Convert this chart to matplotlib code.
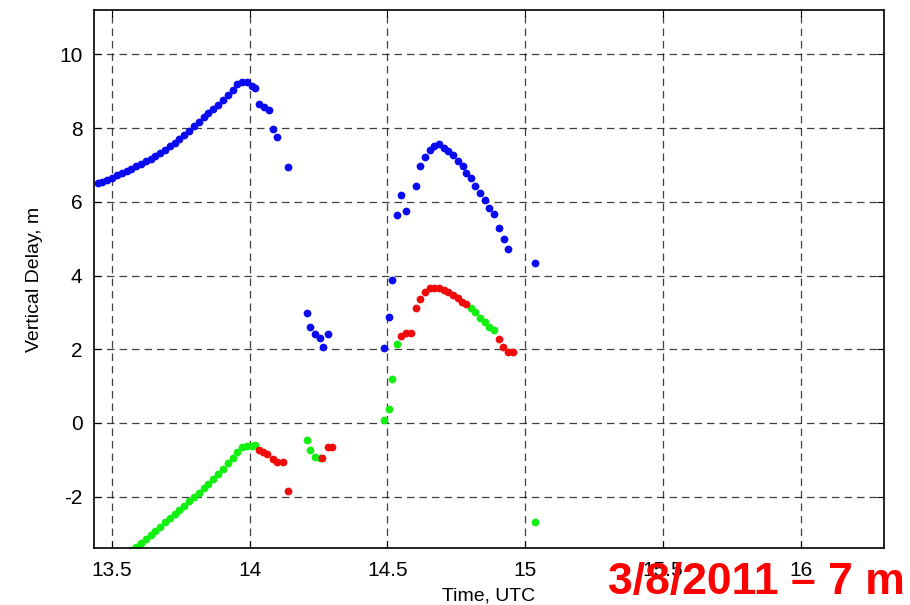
import matplotlib
matplotlib.use('Agg')
import matplotlib.pyplot as plt

plt.rcParams['font.family'] = ['Liberation Sans', 'DejaVu Sans']
plt.rcParams['axes.unicode_minus'] = False

# blue series (upper)
blue_t = [13.449, 13.466, 13.484, 13.501, 13.519, 13.536, 13.554, 13.571, 13.589,
          13.606, 13.624, 13.641, 13.659, 13.676, 13.694, 13.711, 13.729, 13.746,
          13.764, 13.781, 13.799, 13.816, 13.834, 13.851, 13.869, 13.886, 13.904,
          13.921, 13.939, 13.956, 13.974, 13.991, 14.009, 14.020,
          14.036, 14.052, 14.070, 14.085, 14.100, 14.140,
          14.207, 14.221, 14.239, 14.257, 14.268, 14.286,
          14.489, 14.507, 14.518, 14.536, 14.551, 14.569, 14.605, 14.620, 14.638,
          14.656, 14.670, 14.688, 14.707, 14.721, 14.739, 14.757, 14.775, 14.786,
          14.804, 14.819, 14.837, 14.855, 14.870, 14.888, 14.906, 14.924, 14.938,
          15.036]
blue_v = [6.50, 6.54, 6.60, 6.66, 6.73, 6.78, 6.84, 6.90, 6.96,
          7.03, 7.10, 7.17, 7.25, 7.33, 7.42, 7.51, 7.60, 7.70,
          7.82, 7.93, 8.05, 8.17, 8.29, 8.40, 8.52, 8.64, 8.77,
          8.90, 9.03, 9.20, 9.24, 9.25, 9.15, 9.10,
          8.65, 8.57, 8.49, 7.97, 7.76, 6.94,
          2.97, 2.59, 2.42, 2.31, 2.07, 2.42,
          2.04, 2.88, 3.89, 5.63, 6.18, 5.74, 6.42, 6.97, 7.21,
          7.40, 7.51, 7.56, 7.46, 7.37, 7.27, 7.10, 6.97, 6.78,
          6.64, 6.42, 6.23, 6.04, 5.82, 5.66, 5.30, 4.98, 4.71,
          4.35]

# green series (lower)
green_t = [13.572, 13.589, 13.606, 13.624, 13.641, 13.659, 13.676, 13.694, 13.711,
           13.729, 13.746, 13.764, 13.781, 13.799, 13.816, 13.834, 13.851, 13.869,
           13.886, 13.904, 13.921, 13.939, 13.956, 13.974, 13.991, 14.009, 14.020,
           14.207, 14.221, 14.239, 14.257,
           14.489, 14.507, 14.518, 14.536,
           14.804, 14.819, 14.837, 14.855, 14.870, 14.888,
           15.036]
green_v = [-3.45, -3.38, -3.26, -3.15, -3.04, -2.93, -2.82, -2.70, -2.59,
           -2.48, -2.37, -2.25, -2.13, -2.01, -1.89, -1.77, -1.65, -1.53,
           -1.39, -1.24, -1.09, -0.94, -0.79, -0.66, -0.62, -0.64, -0.60,
           -0.46, -0.73, -0.92, -0.95,
           0.08, 0.38, 1.20, 2.15,
           3.13, 3.02, 2.86, 2.75, 2.61, 2.53,
           -2.69]

# red series (lower)
red_t = [14.036, 14.050, 14.065, 14.085, 14.100, 14.120, 14.138,
         14.264, 14.283, 14.300,
         14.551, 14.569, 14.587, 14.605, 14.620, 14.638, 14.656, 14.670, 14.688,
         14.707, 14.721, 14.739, 14.757, 14.772, 14.786,
         14.906, 14.920, 14.938, 14.957]
red_v = [-0.73, -0.78, -0.85, -0.98, -1.06, -1.06, -1.85,
         -0.95, -0.65, -0.65,
         2.37, 2.45, 2.45, 3.13, 3.37, 3.56, 3.67, 3.67, 3.67,
         3.60, 3.54, 3.48, 3.40, 3.29, 3.24,
         2.29, 2.07, 1.93, 1.93]

xticks = [13.5, 14, 14.5, 15, 15.5, 16]
xticklabels = ['13.5', '14', '14.5', '15', '15.5', '16']
yticks = [-2, 0, 2, 4, 6, 8, 10]

fig = plt.figure(figsize=(9.1, 6.05), dpi=100)
ax = fig.add_axes([0.103, 0.094, 0.868, 0.889])

ms = 5.6
ax.plot(blue_t, blue_v, 'o', color='#0a0af0', ms=ms, mec='none')
ax.plot(green_t, green_v, 'o', color='#11f011', ms=ms, mec='none')
ax.plot(red_t, red_v, 'o', color='#f00a0a', ms=ms, mec='none')

ax.set_xlim(13.435, 16.30)
ax.set_ylim(-3.4, 11.2)
ax.set_xticks(xticks)
ax.set_xticklabels(xticklabels)
ax.set_yticks(yticks)
ax.tick_params(direction='in', top=True, right=True, labelsize=15, length=5, width=0.8)
ax.tick_params(axis='x', pad=9)
ax.tick_params(axis='y', pad=8)
ax.grid(True, color='black', linestyle=(0, (6, 4)), linewidth=0.9, alpha=0.75)
for s in ax.spines.values():
    s.set_linewidth(1.2)

ax.set_xlabel('Time, UTC', fontsize=14, labelpad=6)
ax.set_ylabel('Vertical Delay, m', fontsize=14, labelpad=12)

fig.text(0.994, 0.018, '3/8/2011 \u2013 7 m', color='#ff0000', fontsize=32,
         fontweight='bold', ha='right', va='baseline', zorder=10)

fig.savefig('out.png', dpi=100)
